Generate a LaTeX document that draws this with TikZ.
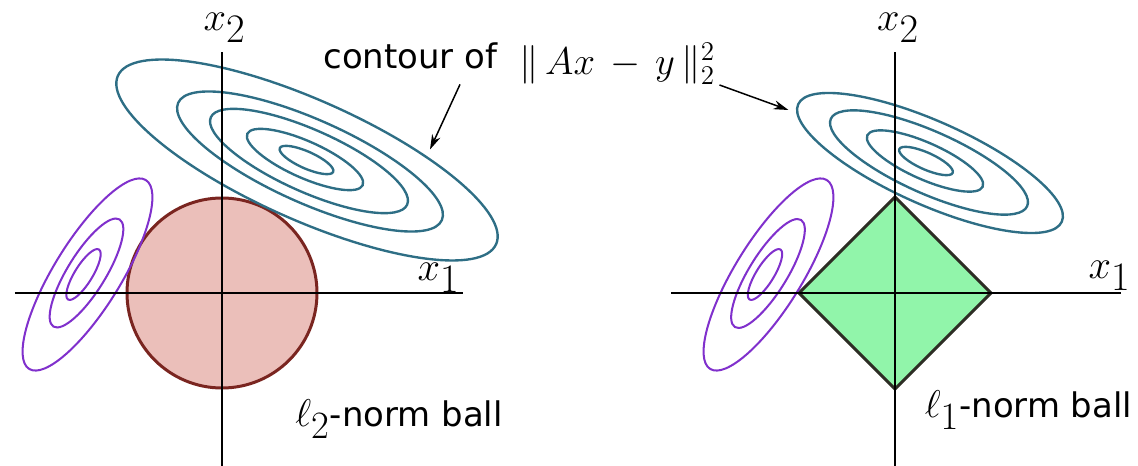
\RequirePackage{fix-cm}
\documentclass[tikz,border=0pt]{standalone}
\usepackage{fontspec}
\setsansfont{DejaVu Sans}
\usetikzlibrary{arrows.meta}

\definecolor{lscolor}{RGB}{46,110,133}
\definecolor{regcolor}{RGB}{128,48,204}
\definecolor{ballfill}{RGB}{235,191,186}
\definecolor{balldraw}{RGB}{122,37,32}
\definecolor{diafill}{RGB}{145,245,170}
\definecolor{diadraw}{RGB}{45,45,36}

\begin{document}
\begin{tikzpicture}[
    axis/.style={draw=black, line width=0.75pt},
    lscont/.style={draw=lscolor, line width=1.35pt},
    regcont/.style={draw=regcolor, line width=1.15pt},
    axlabel/.style={font=\fontsize{23}{27}\selectfont, inner sep=0pt},
    txtlabel/.style={font=\sffamily\fontsize{19.3}{23}\selectfont, inner sep=0pt, anchor=base west},
    >={Stealth[length=3mm, width=1.8mm]}
]
\useasboundingbox (-4.44,-3.46) rectangle (18.32,5.86);

% l2 ball
\draw[fill=ballfill, draw=balldraw, line width=1.7pt] (0,0) circle (1.9);

% l2 panel: contours of the loss
\draw[lscont, shift={(1.70,2.66)}, rotate=-24] (0,0) ellipse (4.14 and 1.20);
\draw[lscont, shift={(1.76,2.63)}, rotate=-24] (0,0) ellipse (2.886 and 0.836);
\draw[lscont, shift={(1.74,2.64)}, rotate=-24] (0,0) ellipse (2.149 and 0.623);
\draw[lscont, shift={(1.66,2.67)}, rotate=-24] (0,0) ellipse (1.263 and 0.366);
\draw[lscont, shift={(1.69,2.66)}, rotate=-24] (0,0) ellipse (0.584 and 0.169);

% l2 panel: purple contours
\draw[regcont, shift={(-2.69,0.37)}, rotate=58.3] (0,0) ellipse (2.22 and 0.67);
\draw[regcont, shift={(-2.71,0.40)}, rotate=58.3] (0,0) ellipse (1.259 and 0.380);
\draw[regcont, shift={(-2.77,0.37)}, rotate=58.3] (0,0) ellipse (0.588 and 0.178);

% l2 panel: axes
\draw[axis] (-4.14,0) -- (4.82,0);
\draw[axis] (0,-3.46) -- (0,4.82);
\node[axlabel] (xoneL) at (4.33,0.30) {$x_{\textstyle 1}$};
\node[axlabel] (xtwoL) at (0.05,5.31) {$x_{\textstyle 2}$};
\node[txtlabel] (ltwo) at (1.46,-2.68) {{\fontsize{22}{26}\selectfont$\ell_{\textstyle 2}$}-norm ball};

% l1 ball
\draw[fill=diafill, draw=diadraw, line width=1.7pt, line join=miter] (11.54,0) -- (13.46,1.92) -- (15.38,0) -- (13.46,-1.92) -- cycle;

% l1 panel: contours of the loss
\draw[lscont, shift={(14.16,2.60)}, rotate=-24] (0,0) ellipse (2.886 and 0.836);
\draw[lscont, shift={(14.14,2.61)}, rotate=-24] (0,0) ellipse (2.149 and 0.623);
\draw[lscont, shift={(14.06,2.64)}, rotate=-24] (0,0) ellipse (1.263 and 0.366);
\draw[lscont, shift={(14.08,2.64)}, rotate=-24] (0,0) ellipse (0.584 and 0.169);

% l1 panel: purple contours
\draw[regcont, shift={(10.93,0.37)}, rotate=58.3] (0,0) ellipse (2.22 and 0.67);
\draw[regcont, shift={(10.92,0.39)}, rotate=58.3] (0,0) ellipse (1.259 and 0.380);
\draw[regcont, shift={(10.86,0.37)}, rotate=58.3] (0,0) ellipse (0.588 and 0.178);

% l1 panel: axes
\draw[axis] (8.98,0) -- (17.98,0);
\draw[axis] (13.46,-3.46) -- (13.46,4.82);
\node[axlabel] (xoneR) at (17.75,0.34) {$x_{\textstyle 1}$};
\node[axlabel] (xtwoR) at (13.52,5.31) {$x_{\textstyle 2}$};
\node[txtlabel] (lone) at (14.05,-2.50) {{\fontsize{22}{26}\selectfont$\ell_{\textstyle 1}$}-norm ball};

% caption with arrows
\node[txtlabel] (contour) at (2.02,4.49) {contour of};
\node[axlabel, font=\fontsize{22}{26}\selectfont, anchor=base west] (lsq) at (5.94,4.36) {$\|\,Ax \mkern3mu - \mkern3mu y\,\|_2^2$};
\coordinate (tipL) at (4.16,2.87);
\coordinate (tipR) at (11.33,3.66);
\draw[->, line width=0.85pt] ([xshift=-0.75cm, yshift=-0.3cm]contour.south east) -- (tipL);
\draw[->, line width=0.85pt] (9.95,4.16) -- (tipR);

\end{tikzpicture}
\end{document}
